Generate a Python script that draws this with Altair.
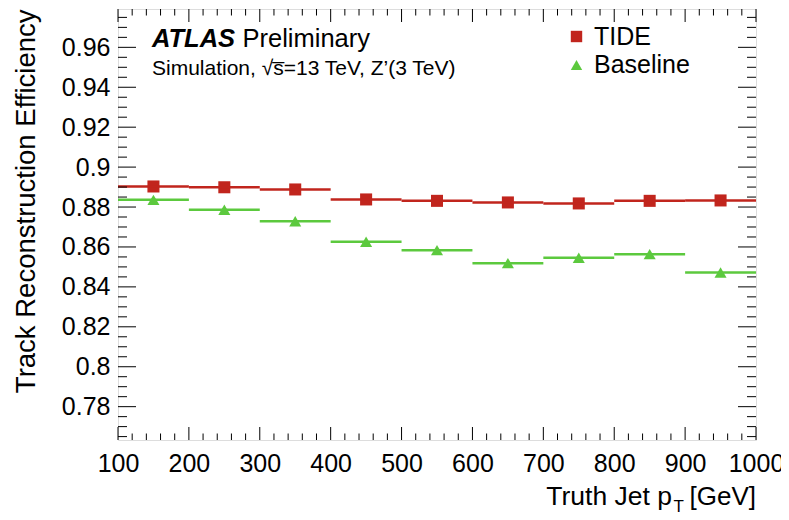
import altair as alt
import pandas as pd

# ---------------- data ----------------
bin_lo = [100, 200, 300, 400, 500, 600, 700, 800, 900]
bin_hi = [200, 300, 400, 500, 600, 700, 800, 900, 1000]
bin_center = [150, 250, 350, 450, 550, 650, 750, 850, 950]
tide_eff = [0.8903, 0.8899, 0.8888, 0.8838, 0.8831, 0.8823, 0.8818, 0.8831, 0.8833]
baseline_eff = [0.8836, 0.8786, 0.8729, 0.8626, 0.8584, 0.8519, 0.8546, 0.8564, 0.8472]
series_names = ["TIDE", "Baseline"]
series_colors = ["#c1251d", "#5cc93e"]
series_shapes = ["square", "triangle-up"]

x_major = [100, 200, 300, 400, 500, 600, 700, 800, 900, 1000]
x_minor = [v for v in range(100, 1001, 20) if v % 100 != 0]
y_major = [0.78, 0.80, 0.82, 0.84, 0.86, 0.88, 0.90, 0.92, 0.94, 0.96]
y_minor = [round(0.765 + 0.005 * i, 3) for i in range(43)]
y_minor = [v for v in y_minor if round(v * 100, 3) % 2 != 0]

x_domain = [100, 1000]
y_domain = [0.7633, 0.9792]

atlas_label = "ATLAS"
prelim_label = "Preliminary"
sim_label = "Simulation, \u221as\u0305=13 TeV, Z\u2019(3 TeV)"
y_title = "Track Reconstruction Efficiency"
x_title_main = "Truth Jet p"
x_title_sub = "T"
x_title_unit = "[GeV]"

# ---------------- tables ----------------
rows = []
for name, vals in zip(series_names, [tide_eff, baseline_eff]):
    for lo, hi, c, v in zip(bin_lo, bin_hi, bin_center, vals):
        rows.append({"series": name, "lo": lo, "hi": hi, "x": c, "y": v})
df = pd.DataFrame(rows)

W, H = 638, 431
F = "Liberation Sans"

xs = alt.Scale(domain=x_domain, nice=False, zero=False)
ys = alt.Scale(domain=y_domain, nice=False, zero=False)
cs = alt.Scale(domain=series_names, range=series_colors)
ss = alt.Scale(domain=series_names, range=series_shapes)

xaxis = alt.Axis(values=x_major, format="d", ticks=False, domain=False, grid=False,
                 labelFontSize=25, labelFont=F, labelColor="black", labelPadding=11,
                 labelFlush=False, title=None)
yaxis = alt.Axis(values=y_major, format="~g", ticks=False, domain=False, grid=False,
                 labelFontSize=25, labelFont=F, labelColor="black", labelPadding=8,
                 title=y_title, titleFontSize=27.5, titleFont=F, titleFontWeight="normal",
                 titleColor="black", titleAngle=270, titleAnchor="end", titleAlign="right",
                 titleBaseline="alphabetic", titleX=-84, titleY=0)

legend = alt.Legend(orient="none", legendX=446, legendY=15, title=None,
                    labelFontSize=25, labelFont=F, labelColor="black",
                    symbolSize=130, symbolStrokeWidth=0, labelOffset=5,
                    rowPadding=2.5, padding=0)

points = alt.Chart(df).mark_point(filled=True, opacity=1, size=145).encode(
    x=alt.X("x:Q", scale=xs, axis=xaxis),
    y=alt.Y("y:Q", scale=ys, axis=yaxis),
    color=alt.Color("series:N", scale=cs, legend=legend, sort=series_names),
    shape=alt.Shape("series:N", scale=ss, legend=legend, sort=series_names),
)

bars = alt.Chart(df).mark_rule(strokeWidth=2.5).encode(
    x=alt.X("lo:Q", scale=xs, axis=xaxis),
    x2="hi:Q",
    y=alt.Y("y:Q", scale=ys, axis=yaxis),
    color=alt.Color("series:N", scale=cs, legend=legend, sort=series_names),
)


def yticks(vals, x0, x1):
    return alt.Chart(pd.DataFrame({"y": vals})).mark_rule(color="black", strokeWidth=1).encode(
        y=alt.Y("y:Q", scale=ys, axis=yaxis),
        x=alt.value(x0), x2=alt.value(x1))


def xticks(vals, y0, y1):
    return alt.Chart(pd.DataFrame({"lo": vals})).mark_rule(color="black", strokeWidth=1).encode(
        x=alt.X("lo:Q", scale=xs, axis=xaxis),
        y=alt.value(y0), y2=alt.value(y1))


ticks = [
    yticks(y_major, 0, 18), yticks(y_minor, 0, 9),
    yticks(y_major, W - 18, W), yticks(y_minor, W - 9, W),
    xticks(x_major, H, H - 13), xticks(x_minor, H, H - 6.5),
    xticks(x_major, 0, 13), xticks(x_minor, 0, 6.5),
]


def label(txt, x, y, size=24, align="left", weight="normal", style="normal"):
    return alt.Chart(pd.DataFrame({"t": [txt]})).mark_text(
        align=align, baseline="alphabetic", font=F, fontSize=size,
        fontWeight=weight, fontStyle=style, color="black").encode(
        x=alt.value(x), y=alt.value(y), text="t:N")


texts = [
    label(atlas_label, 34, 37.5, size=25.5, weight="bold", style="italic"),
    label(prelim_label, 124.5, 37.5, size=25.5),
    label(sim_label, 34, 66, size=21),
    label(x_title_main, 554, 496, size=26.5, align="right"),
    label(x_title_sub, 555.5, 503, size=17),
    label(x_title_unit, 638, 496, size=26, align="right"),
]

chart = alt.layer(points, bars, *ticks, *texts).properties(
    width=W, height=H,
    autosize=alt.AutoSizeParams(type="none"),
    padding={"left": 110, "top": 1, "right": 25, "bottom": 76},
).configure_view(stroke="black", strokeWidth=1.3).configure(background="white")

chart.save("out.html", embed_options={"renderer": "svg", "actions": False})
